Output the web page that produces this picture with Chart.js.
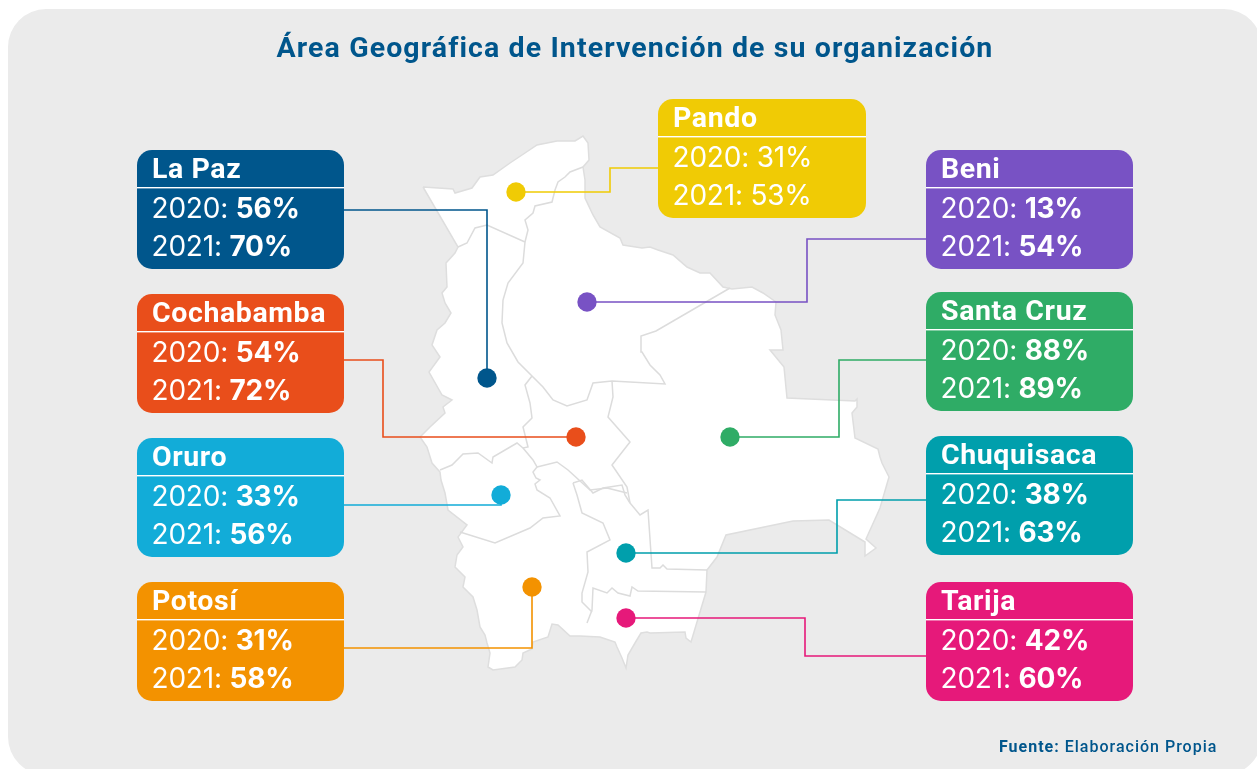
<!DOCTYPE html>
<html lang="es">
<head>
<meta charset="utf-8">
<title>Área Geográfica de Intervención de su organización</title>
<script src="https://cdn.jsdelivr.net/npm/chart.js@4"></script>
<style>
html,body{margin:0;padding:0;background:#fff;overflow:hidden}
canvas{display:block}
</style>
</head>
<body>
<canvas id="c" width="1257" height="769"></canvas>
<script>
// ---------- values ----------
const chartTitle = "Área Geográfica de Intervención de su organización";
const sourceLabel = "Fuente:";
const sourceText = "Elaboración Propia";
const departments = ["La Paz","Cochabamba","Oruro","Potosí","Pando","Beni","Santa Cruz","Chuquisaca","Tarija"];
const pct2020 = [56,54,33,31,31,13,88,38,42];
const pct2021 = [70,72,56,58,53,54,89,63,60];
const yearA = "2020";
const yearB = "2021";
const colors = ["#00568c","#e94e1b","#12acd8","#f39200","#f0cb05","#7852c4","#2fac66","#009fac","#e6197a"];

// ---------- marker location on the map ----------
const markerX = [487,576,501,532,516,587,730,626,626];
const markerY = [378,437,495,587,192,302,437,553,618];

// ---------- leader lines: [x,y] vertices, card edge to marker ----------
const leaders = [
  [[344,210],[487,210],[487,378]],
  [[344,360],[383,360],[383,437],[576,437]],
  [[344,505],[501,505],[501,495]],
  [[344,648],[532,648],[532,587]],
  [[658,168],[610,168],[610,192],[516,192]],
  [[926,239],[807,239],[807,302],[587,302]],
  [[926,360],[839,360],[839,437],[730,437]],
  [[926,500],[837,500],[837,553],[626,553]],
  [[926,656],[805,656],[805,618],[626,618]]
];

// ---------- map of Bolivia, traced ----------
const outline = [[423,187],[453,189],[455,193],[472,188],[480,177],[493,175],[510,163],[525,153],[537,145],[557,141],[575,141],[583,136],[588,143],[589,160],[583,167],[585,180],[585,198],[593,215],[600,227],[620,238],[623,245],[642,248],[650,247],[658,250],[673,255],[687,267],[700,273],[710,273],[723,287],[732,289],[752,287],[763,293],[776,302],[775,315],[781,330],[783,350],[770,350],[784,367],[787,398],[855,401],[857,399],[857,407],[852,413],[855,438],[878,449],[880,457],[882,463],[889,477],[880,508],[866,539],[876,548],[865,556],[865,542],[829,520],[793,521],[726,535],[717,557],[707,570],[706,592],[691,642],[686,638],[685,632],[650,633],[647,632],[641,633],[635,643],[628,655],[626,668],[622,658],[617,647],[615,642],[600,637],[580,636],[570,636],[558,625],[552,624],[548,637],[533,642],[532,649],[523,653],[522,660],[515,667],[493,670],[488,667],[490,653],[487,643],[485,635],[480,627],[477,610],[473,597],[463,587],[465,577],[455,567],[457,555],[463,547],[458,537],[467,525],[448,510],[445,493],[441,480],[440,472],[432,463],[427,447],[420,437],[430,427],[445,413],[443,407],[452,400],[442,395],[429,372],[440,357],[432,345],[437,330],[445,323],[451,313],[445,303],[442,293],[447,287],[446,263],[455,253],[458,247]];
const borders = [
  [[583,167],[570,172],[565,177],[558,182],[555,190],[552,202],[535,206],[533,213],[525,220],[528,230],[525,242]],
  [[458,247],[467,243],[475,228],[487,225],[525,242]],
  [[525,242],[523,263],[508,283],[503,300],[502,323],[507,343],[518,362],[532,376],[543,387],[553,400],[567,406],[587,400],[593,383],[612,381],[665,384],[660,375],[650,365],[642,352],[641,336],[656,331],[730,288]],
  [[532,376],[525,385],[530,403],[532,418],[523,427],[528,447],[523,448],[517,443],[493,457],[492,463],[478,453],[463,454],[452,465],[440,470]],
  [[523,448],[533,460],[537,467],[533,472],[536,478],[540,480],[535,484],[537,490],[550,498],[560,516],[543,518],[530,528],[495,543],[460,532]],
  [[537,467],[557,462],[568,470],[590,490],[607,488],[627,493]],
  [[612,381],[613,397],[608,417],[630,442],[612,465],[627,487],[630,503],[640,515],[648,510],[652,568],[660,568],[663,565],[667,569],[707,570]],
  [[573,483],[577,495],[582,513],[603,523],[610,540],[587,552],[588,572],[582,593],[582,602],[592,612]],
  [[573,483],[582,480],[593,493],[603,488],[622,485],[625,495],[630,503]],
  [[587,623],[592,610],[593,588],[607,593],[612,588],[618,593],[630,596],[632,587],[638,591],[706,592]]
];

// ---------- layout ----------
const cardX = [137,137,137,137,658,926,926,926,926];
const cardY = [150,294,438,582,99,150,292,436,582];
const cardW = 207, cardH = 119;
const FONT_HEAD = '"Roboto"', FONT_BODY = '"Inter"';

const toXY = pts => pts.map(p => ({x:p[0], y:p[1]}));
const datasets = [];
datasets.push({type:'scatter',label:'marcadores',order:0,
  data:markerX.map((x,i)=>({x,y:markerY[i]})),
  backgroundColor:colors,borderWidth:0,pointBorderWidth:0,pointRadius:9.7,pointHoverRadius:9.7,showLine:false});
leaders.forEach((l,i)=>datasets.push({type:'scatter',label:departments[i],order:1,data:toXY(l),
  showLine:true,borderColor:colors[i],borderWidth:1.6,pointRadius:0,tension:0,fill:false}));
borders.forEach((b,i)=>datasets.push({type:'scatter',label:'limite'+i,order:2,data:toXY(b),
  showLine:true,borderColor:'#dcdcdc',borderWidth:1.5,pointRadius:0,tension:0,fill:false}));
datasets.push({type:'scatter',label:'Bolivia',order:3,data:toXY(outline.concat([outline[0]])),
  showLine:true,borderColor:'#dedede',borderWidth:1.5,pointRadius:0,tension:0,
  fill:'shape',backgroundColor:'#ffffff'});

function rr(ctx,x,y,w,h,r){ctx.beginPath();ctx.roundRect(x,y,w,h,r);}

const backdrop = {id:'backdrop',beforeDraw(chart){
  const ctx=chart.ctx;ctx.save();
  ctx.fillStyle='#ebebeb';rr(ctx,8,9,1254,766,38);ctx.fill();
  ctx.restore();
}};
const cards = {id:'cards',afterDatasetsDraw(chart){
  const ctx=chart.ctx;ctx.save();
  ctx.textBaseline='alphabetic';
  // title
  ctx.fillStyle='#00568c';ctx.textAlign='center';
  ctx.font='700 28.5px '+FONT_HEAD;ctx.letterSpacing='1.1px';
  ctx.fillText(chartTitle,635,57);
  ctx.textAlign='left';
  // source
  ctx.font='700 16px '+FONT_HEAD;ctx.letterSpacing='1px';
  ctx.fillText(sourceLabel,999,752);
  const w0=ctx.measureText(sourceLabel+' ').width;
  ctx.font='500 16px '+FONT_HEAD;
  ctx.fillText(sourceText,999+w0,752);
  // cards
  departments.forEach((name,i)=>{
    const x=cardX[i],y=cardY[i];
    const w=i===4?208:cardW;
    ctx.fillStyle=colors[i];rr(ctx,x,y,w,cardH,15);ctx.fill();
    ctx.fillStyle='#fff';ctx.fillRect(x,y+37,w,1.4);
    ctx.letterSpacing='0.6px';
    ctx.font='700 28.5px '+FONT_HEAD;
    ctx.fillText(name,x+15,y+28);
    ctx.letterSpacing='-0.2px';
    [[yearA,pct2020[i],68],[yearB,pct2021[i],106]].forEach(([yr,v,dy])=>{
      const label=yr+': ';
      ctx.font='400 28px '+FONT_BODY;
      ctx.fillText(label,x+14.5,y+dy);
      const lw=ctx.measureText(label).width;
      ctx.font=(i===4?'400':'700')+' 28px '+FONT_BODY;
      ctx.fillText(v+'%',x+14.5+lw,y+dy);
    });
  });
  ctx.restore();
}};

new Chart(document.getElementById('c'),{
  type:'scatter',
  data:{datasets},
  plugins:[backdrop,cards],
  options:{
    responsive:false,animation:false,
    layout:{padding:0,autoPadding:false},
    events:[],
    plugins:{legend:{display:false},tooltip:{enabled:false},title:{display:false}},
    scales:{
      x:{type:'linear',display:false,min:0,max:1257},
      y:{type:'linear',display:false,min:0,max:769,reverse:true}
    },
    clip:false
  }
});
</script>
</body>
</html>
